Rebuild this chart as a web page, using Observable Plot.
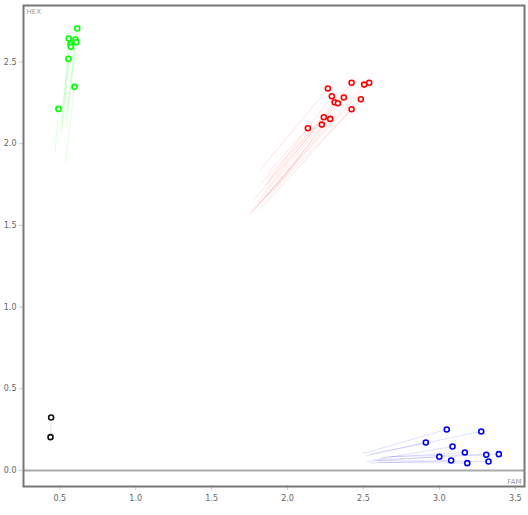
<!DOCTYPE html>
<html>
<head>
<meta charset="utf-8">
<script src="https://cdn.jsdelivr.net/npm/d3@7"></script>
<script src="https://cdn.jsdelivr.net/npm/@observablehq/plot@0.6"></script>
<style>
  html, body { margin: 0; padding: 0; background: #fff; }
  #chart svg { display: block; }
</style>
</head>
<body>
<div id="chart"></div>
<script>
// ---- data (current positions and trail start positions) ----
const greenFam  = [0.615, 0.559, 0.603, 0.608, 0.570, 0.573, 0.557, 0.597, 0.491];
const greenHex  = [2.705, 2.644, 2.638, 2.621, 2.609, 2.593, 2.520, 2.348, 2.213];
const greenFam0 = [0.545, 0.510, 0.540, 0.550, 0.520, 0.530, 0.500, 0.538, 0.470];
const greenHex0 = [2.100, 2.050, 2.150, 2.200, 2.120, 2.250, 2.080, 1.877, 1.949];

const redFam  = [2.266, 2.422, 2.505, 2.538, 2.292, 2.371, 2.310, 2.332, 2.483, 2.422, 2.239, 2.281, 2.226, 2.134];
const redHex  = [2.338, 2.373, 2.362, 2.373, 2.291, 2.283, 2.254, 2.248, 2.272, 2.211, 2.162, 2.152, 2.117, 2.095];
const redFam0 = [1.82, 1.86, 1.80, 1.76, 1.88, 1.90, 1.85, 1.78, 1.82, 1.75, 1.83, 1.86, 1.80, 1.87];
const redHex0 = [1.84, 1.72, 1.62, 1.58, 1.78, 1.70, 1.74, 1.66, 1.60, 1.57, 1.76, 1.68, 1.64, 1.82];

const blueFam  = [3.049, 3.276, 2.911, 3.087, 3.168, 3.309, 3.392, 3.000, 3.078, 3.324, 3.184];
const blueHex  = [0.251, 0.239, 0.171, 0.147, 0.110, 0.096, 0.100, 0.084, 0.061, 0.055, 0.045];
const blueFam0 = [2.50, 2.55, 2.52, 2.60, 2.62, 2.56, 2.68, 2.52, 2.55, 2.58, 2.60];
const blueHex0 = [0.105, 0.100, 0.090, 0.070, 0.080, 0.065, 0.085, 0.055, 0.045, 0.060, 0.050];

const blackFam  = [0.443, 0.439];
const blackHex  = [0.324, 0.204];
const blackFam0 = [0.439, 0.437];
const blackHex0 = [0.204, 0.190];

const xTicks = [0.5, 1.0, 1.5, 2.0, 2.5, 3.0, 3.5];
const yTicks = [0.0, 0.5, 1.0, 1.5, 2.0, 2.5];
const xLabel = "FAM";
const yLabel = "HEX";

const groups = [
  {color: "#00ff00", fam: greenFam, hex: greenHex, fam0: greenFam0, hex0: greenHex0},
  {color: "#ff0000", fam: redFam, hex: redHex, fam0: redFam0, hex0: redHex0},
  {color: "#0000ff", fam: blueFam, hex: blueHex, fam0: blueFam0, hex0: blueHex0},
  {color: "#111111", fam: blackFam, hex: blackHex, fam0: blackFam0, hex0: blackHex0}
];
const rows = groups.flatMap(g => g.fam.map((f, i) => ({
  color: g.color, fam: f, hex: g.hex[i], fam0: g.fam0[i], hex0: g.hex0[i]
})));

const font = "DejaVu Sans, Verdana, sans-serif";

const chart = Plot.plot({
  width: 528,
  height: 515,
  marginLeft: 23,
  marginRight: 4,
  marginTop: 5,
  marginBottom: 29,
  style: {fontFamily: font, fontSize: "8px", background: "#fff"},
  x: {domain: [0.261, 3.561]},
  y: {domain: [-0.098, 2.846]},
  marks: [
    Plot.ruleY([0], {stroke: "#aaa", strokeWidth: 2}),
    Plot.link(rows, {x1: "fam0", y1: "hex0", x2: "fam", y2: "hex", stroke: "color", strokeOpacity: 0.12, strokeWidth: 1}),
    Plot.dot(rows, {x: "fam", y: "hex", stroke: "color", fill: "#fff", r: 2.5, strokeWidth: 1.6}),
    Plot.axisX(xTicks, {tickSize: 4, tickPadding: 5, stroke: "#ccc", fill: "#666", tickFormat: d3.format(".1f"), label: null}),
    Plot.axisY(yTicks, {tickSize: 4, tickPadding: 3, stroke: "#ccc", fill: "#666", tickFormat: d3.format(".1f"), label: null}),
    Plot.frame({stroke: "#777", strokeWidth: 2}),
    Plot.text([yLabel], {frameAnchor: "top-left", dx: 3, dy: 4, fill: "#999", fontSize: 7}),
    Plot.text([xLabel], {frameAnchor: "bottom-right", dx: -3, dy: -3, fill: "#999", fontSize: 7})
  ]
});
document.getElementById("chart").appendChild(chart);
</script>
</body>
</html>
